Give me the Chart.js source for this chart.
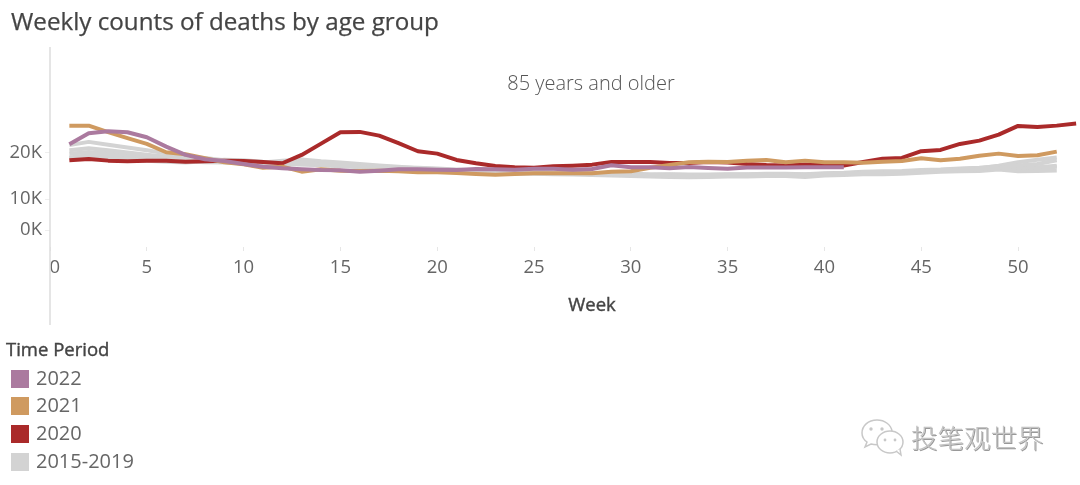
<!DOCTYPE html>
<html>
<head>
<meta charset="utf-8">
<script src="https://cdn.jsdelivr.net/npm/chart.js@4"></script>
<style>
    html, body { margin: 0; padding: 0; background: #fff; }
    #page { position: relative; width: 1080px; height: 485px; overflow: hidden; font-family: "Open Sans", sans-serif; color: #555; }
    #page canvas { position: absolute; left: 0; top: 0; }
    .text { position: absolute; white-space: nowrap; }
    #title { left: 11px; top: 4px; font-size: 24.2px; color: #444; -webkit-text-stroke: 0.25px #444; }
    #panel { left: 591px; top: 69px; transform: translateX(-50%); font-size: 20px; font-weight: 300; color: #555; }
    #week { left: 592px; top: 291px; transform: translateX(-50%); font-size: 18.5px; color: #444; -webkit-text-stroke: 0.4px #444; }
    #legendTitle { left: 6px; top: 336px; font-size: 18.5px; color: #444; -webkit-text-stroke: 0.4px #444; }
    .swatch { position: absolute; left: 11px; width: 18px; height: 18px; }
    .legendLabel { position: absolute; left: 36px; font-size: 20px; color: #666; white-space: nowrap; }
    #brand { left: 911px; top: 417px; font-family: "Noto Sans CJK SC", sans-serif; font-weight: 300; font-size: 26.5px; color: #c4c4c4; text-shadow: 1px 1px 0 #999; }
    #brandIcon { position: absolute; left: 860px; top: 418px; }
</style>
</head>
<body>
<div id="page">
    <canvas id="chart" width="1080" height="485"></canvas>
    <div class="text" id="title">Weekly counts of deaths by age group</div>
    <div class="text" id="panel">85 years and older</div>
    <div class="text" id="week">Week</div>
    <div class="text" id="legendTitle">Time Period</div>
    <div id="legend"></div>
    <svg id="brandIcon" width="48" height="40" viewBox="0 0 48 40">
        <path d="M17 2C8 2 2 8 2 15c0 4 2 7 5 9l-2 5 6-3c2 .6 4 .8 6 .8" fill="#fff" stroke="#c8c8c8" stroke-width="1.5"/>
        <path d="M17 2c8 0 14 5 15 11" fill="none" stroke="#c8c8c8" stroke-width="1.5"/>
        <ellipse cx="30" cy="24" rx="13" ry="11" fill="#fff" stroke="#c8c8c8" stroke-width="1.5"/>
        <path d="M36 33l5 4-1-6" fill="#fff" stroke="#c8c8c8" stroke-width="1.5"/>
        <circle cx="11" cy="11" r="1.7" fill="#c8c8c8"/>
        <circle cx="22" cy="11" r="1.7" fill="#c8c8c8"/>
        <circle cx="25" cy="22" r="1.4" fill="#c8c8c8"/>
        <circle cx="35" cy="22" r="1.4" fill="#c8c8c8"/>
    </svg>
    <div class="text" id="brand">投笔观世界</div>
</div>
<script>
    const weeks = Array.from({ length: 53 }, (_, i) => i + 1);
    const xTicks = [0, 5, 10, 15, 20, 25, 30, 35, 40, 45, 50];
    const yTicks = [0, 10000, 20000];

    // thousands of deaths per week
    const deaths2022 = [21.89, 24.28, 24.72, 24.5, 23.41, 21.37, 19.57, 18.63, 18.26, 17.61, 17.02, 16.67, 16.46, 16.3, 16.24, 15.93, 16.15, 16.46, 16.46, 16.37, 16.3, 16.52, 16.46, 16.37, 16.59, 16.59, 16.37, 16.52, 17.33, 16.89, 16.89, 16.67, 16.96, 16.74, 16.59, 16.85, 16.85, 16.85, 16.89, 16.89, 16.89];
    const deaths2021 = [25.93, 25.93, 24.5, 23.2, 21.96, 20.15, 19.72, 18.85, 17.98, 17.54, 16.8, 17.02, 15.93, 16.46, 16.15, 16.09, 16.15, 16.02, 15.8, 15.8, 15.65, 15.43, 15.28, 15.43, 15.59, 15.59, 15.59, 15.59, 15.93, 16.02, 16.8, 17.39, 17.98, 18.11, 18.04, 18.33, 18.48, 17.98, 18.33, 17.98, 17.98, 17.89, 18.11, 18.26, 18.85, 18.41, 18.76, 19.41, 19.85, 19.35, 19.5, 20.28];
    const deaths2020 = [18.41, 18.7, 18.33, 18.2, 18.33, 18.33, 18.11, 18.2, 18.33, 18.26, 18.04, 17.76, 19.57, 22.02, 24.5, 24.57, 23.76, 22.11, 20.37, 19.85, 18.48, 17.76, 17.17, 16.89, 16.8, 17.11, 17.24, 17.46, 18.04, 18.04, 18.04, 17.83, 17.83, 18.04, 17.93, 17.61, 17.39, 17.28, 17.5, 17.39, 17.28, 18.04, 18.76, 18.91, 20.37, 20.65, 21.96, 22.67, 23.98, 25.87, 25.65, 25.93, 26.37];
    const deaths2015 = [21.7, 22.4, 21.8, 21.2, 20.6, 19.9, 19.3, 18.9, 18.4, 18.0, 17.7, 17.6, 17.9, 17.5, 17.2, 17.0, 16.8, 16.6, 16.4, 16.3, 16.1, 15.9, 15.8, 15.7, 15.6, 15.5, 15.5, 15.4, 15.3, 15.2, 15.1, 15.0, 14.9, 15.0, 15.0, 15.1, 15.1, 15.2, 15.1, 15.3, 15.4, 15.6, 15.6, 15.7, 15.9, 16.1, 16.3, 16.5, 16.7, 17.3, 17.6, 18.4];
    const deaths2016 = [20.6, 21.0, 20.6, 20.1, 19.6, 19.2, 18.8, 18.6, 18.3, 18.1, 17.9, 18.3, 18.6, 18.2, 17.9, 17.6, 17.3, 17.0, 16.7, 16.5, 16.3, 16.1, 16.0, 15.9, 15.7, 15.7, 15.6, 15.5, 15.4, 15.3, 15.2, 15.3, 15.2, 15.2, 15.3, 15.3, 15.4, 15.4, 15.3, 15.5, 15.6, 15.8, 15.8, 15.9, 16.1, 16.3, 16.5, 16.7, 17.2, 18.0, 18.5, 19.0];
    const deaths2017 = [19.8, 20.2, 19.9, 19.5, 19.2, 18.9, 18.6, 18.4, 18.2, 18.0, 17.8, 17.7, 17.5, 17.3, 17.1, 16.9, 16.6, 16.4, 16.2, 16.0, 15.8, 15.7, 15.6, 15.5, 15.5, 15.4, 15.3, 15.2, 15.1, 15.0, 14.9, 14.8, 14.7, 14.8, 14.9, 14.9, 15.0, 15.0, 14.8, 15.1, 15.2, 15.4, 15.4, 15.5, 15.7, 15.9, 16.0, 16.1, 16.4, 16.0, 16.1, 16.2];
    const deaths2018 = [19.0, 19.5, 19.3, 19.0, 18.7, 18.4, 18.2, 18.0, 17.9, 17.7, 17.5, 17.4, 17.6, 17.4, 17.3, 17.1, 16.9, 16.7, 16.5, 16.3, 16.1, 16.0, 15.9, 15.7, 15.6, 15.6, 15.5, 15.4, 15.3, 15.3, 15.2, 15.1, 15.0, 15.1, 15.1, 15.2, 15.2, 15.3, 15.2, 15.4, 15.5, 15.7, 15.7, 15.8, 16.0, 16.2, 16.4, 16.6, 16.9, 16.5, 16.7, 17.0];
    const deaths2019 = [18.9, 18.8, 18.6, 18.5, 18.3, 18.1, 17.9, 18.2, 18.5, 18.4, 18.1, 18.0, 18.2, 17.9, 17.6, 17.3, 17.1, 16.9, 16.8, 16.6, 16.4, 16.2, 16.1, 16.0, 15.9, 15.8, 15.7, 15.6, 15.6, 15.5, 15.4, 15.4, 15.3, 15.3, 15.4, 15.4, 15.5, 15.5, 15.4, 15.6, 15.7, 15.9, 16.0, 16.1, 16.3, 16.4, 16.6, 16.8, 17.1, 16.8, 16.9, 17.2];

    const colors = { p2022: "#ab7a9f", p2021: "#cf9a60", p2020: "#aa2a2a", base: "#d3d3d3" };
    const legendLabels = ["2022", "2021", "2020", "2015-2019"];
    const legendColors = [colors.p2022, colors.p2021, colors.p2020, colors.base];
    const legendTops = [370, 397, 425, 453];

    legendLabels.forEach((label, i) => {
        const holder = document.getElementById("legend");
        const swatch = document.createElement("div");
        swatch.className = "swatch";
        swatch.style.top = legendTops[i] + "px";
        swatch.style.background = legendColors[i];
        holder.appendChild(swatch);
        const text = document.createElement("div");
        text.className = "legendLabel";
        text.style.top = (legendTops[i] - 6) + "px";
        text.textContent = label;
        holder.appendChild(text);
    });

    // the source axis is not evenly spaced below 10K, so the scale bends there
    const bendValues = [-5500, 0, 10000, 43000];
    const bendFractions = [0, 0.085, 0.24, 1];

    class BentScale extends Chart.LinearScale {
        getPixelForValue(value) {
            let i = 0;
            while (i < bendValues.length - 2 && value > bendValues[i + 1]) {
                i++;
            }
            const t = (value - bendValues[i]) / (bendValues[i + 1] - bendValues[i]);
            return this.getPixelForDecimal(bendFractions[i] + t * (bendFractions[i + 1] - bendFractions[i]));
        }
    }
    BentScale.id = "bent";
    BentScale.defaults = Chart.LinearScale.defaults;
    Chart.register(BentScale);

    function lineSeries(label, values, color, width, order) {
        return {
            label,
            data: values.map((v, i) => ({ x: weeks[i], y: v * 1000 })),
            borderColor: color,
            borderWidth: width,
            pointRadius: 0,
            tension: 0,
            borderJoinStyle: "round",
            borderCapStyle: "butt",
            order
        };
    }

    const yAxisLine = {
        id: "yAxisLine",
        afterDraw(chart) {
            const ctx = chart.ctx;
            const x = chart.scales.x.left;
            ctx.save();
            ctx.strokeStyle = "#dcdcdc";
            ctx.lineWidth = 1.5;
            ctx.beginPath();
            ctx.moveTo(x, 47);
            ctx.lineTo(x, 325);
            ctx.stroke();
            ctx.restore();
        }
    };

    new Chart(document.getElementById("chart"), {
        type: "line",
        data: {
            datasets: [
                lineSeries("2022", deaths2022, colors.p2022, 4, 1),
                lineSeries("2021", deaths2021, colors.p2021, 4, 2),
                lineSeries("2020", deaths2020, colors.p2020, 4, 3),
                lineSeries("2015", deaths2015, colors.base, 4, 4),
                lineSeries("2016", deaths2016, colors.base, 4, 5),
                lineSeries("2017", deaths2017, colors.base, 4, 6),
                lineSeries("2018", deaths2018, colors.base, 4, 7),
                lineSeries("2019", deaths2019, colors.base, 4, 8)
            ]
        },
        options: {
            responsive: false,
            animation: false,
            clip: false,
            layout: { padding: { top: 47, bottom: 0, left: 0, right: 0 } },
            plugins: { legend: { display: false }, tooltip: { enabled: false } },
            scales: {
                x: {
                    type: "linear",
                    min: 0,
                    max: 53.2,
                    afterBuildTicks(axis) { axis.ticks = xTicks.map((value) => ({ value })); },
                    afterFit(axis) { axis.height = 238; },
                    grid: { drawOnChartArea: false, tickLength: 4, color: "#e6e6e6" },
                    border: { display: false },
                    ticks: {
                        autoSkip: false,
                        maxRotation: 0,
                        padding: 6,
                        color: "#666",
                        font: { family: "'Open Sans'", size: 18.5 },
                        // the source nudges its first label clear of the axis line
                        callback: (value) => (value === 0 ? "\u00a0\u00a00" : String(value))
                    }
                },
                y: {
                    type: "bent",
                    min: -5500,
                    max: 43000,
                    afterBuildTicks(axis) { axis.ticks = yTicks.map((value) => ({ value })); },
                    afterFit(axis) { axis.width = 50; },
                    grid: { drawOnChartArea: false, tickLength: 5, color: "#eeeeee" },
                    border: { display: false },
                    ticks: {
                        padding: 3,
                        color: "#666",
                        font: { family: "'Open Sans'", size: 18.5 },
                        callback: (value) => (value / 1000) + "K"
                    }
                }
            }
        },
        plugins: [yAxisLine]
    });
</script>
</body>
</html>
